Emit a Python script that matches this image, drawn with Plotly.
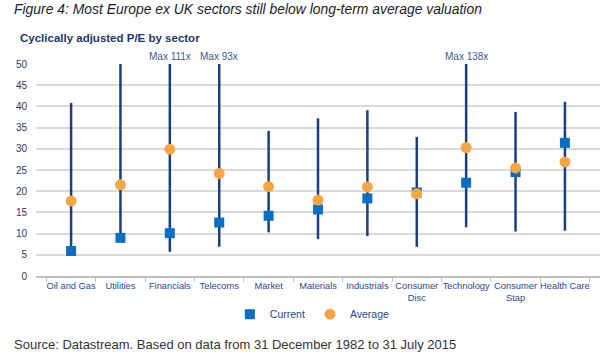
import plotly.graph_objects as go

sectors = ["Oil and Gas", "Utilities", "Financials", "Telecoms", "Market", "Materials",
           "Industrials", "Consumer<br>Disc", "Technology", "Consumer<br>Stap", "Health Care"]
current = [5.9, 9.0, 10.1, 12.6, 14.2, 15.7, 18.3, 19.7, 22.0, 24.5, 31.4]
average = [17.7, 21.5, 29.9, 24.2, 21.1, 17.9, 21.0, 19.4, 30.3, 25.5, 26.9]
range_min = [5.5, 8.5, 5.7, 6.9, 10.3, 8.7, 9.4, 6.9, 11.5, 10.5, 10.7]
range_max = [40.8, 50.0, 111.0, 93.0, 34.2, 37.2, 39.1, 32.8, 138.0, 38.7, 41.1]
y_ticks = list(range(0, 51, 5))
y_top = 50

FONT = "Liberation Sans, Arial, sans-serif"

# range lines built from data (clipped at the axis top)
lx, ly = [], []
for s, lo, hi in zip(sectors, range_min, range_max):
    lx += [s, s, None]
    ly += [lo, min(hi, y_top), None]

fig = go.Figure()
fig.add_trace(go.Scatter(x=lx, y=ly, mode="lines", line=dict(color="#1B3F7E", width=2.5),
                         showlegend=False, hoverinfo="skip"))
fig.add_trace(go.Scatter(x=sectors, y=current, mode="markers", name="Current",
                         marker=dict(symbol="square", size=10, color="#0A6FC2")))
fig.add_trace(go.Scatter(x=sectors, y=average, mode="markers", name="Average",
                         marker=dict(symbol="circle", size=11, color="#F8A546")))

for s, hi in zip(sectors, range_max):
    if hi > y_top + 5:
        fig.add_annotation(x=s, y=y_top, yref="y", text=f"Max {hi:.0f}x", showarrow=False,
                           yshift=8, font=dict(family=FONT, size=10, color="#3B5A8E"))

fig.add_annotation(text="Figure 4: Most Europe ex UK sectors still below long-term average valuation",
                   xref="paper", yref="paper", x=-0.043, y=1.0, yshift=55.5, xanchor="left", yanchor="middle",
                   showarrow=False, font=dict(family=FONT, size=13.9, color="#1C1C2A", style="italic"))
fig.add_annotation(text="<b>Cyclically adjusted P/E by sector</b>",
                   xref="paper", yref="paper", x=-0.032, y=1.0, yshift=26, xanchor="left", yanchor="middle",
                   showarrow=False, font=dict(family=FONT, size=11.5, color="#1F3864"))
fig.add_annotation(text="Source: Datastream. Based on data from 31 December 1982 to 31 July 2015",
                   xref="paper", yref="paper", x=-0.043, y=0.0, yshift=-68, xanchor="left", yanchor="middle",
                   showarrow=False, font=dict(family=FONT, size=13, color="#333333"))

fig.update_layout(
    width=610, height=356,
    margin=dict(l=36, r=10, t=64, b=80, autoexpand=False),
    paper_bgcolor="white", plot_bgcolor="white",
    font=dict(family=FONT, size=10, color="#284A86"),
    showlegend=True,
    legend=dict(orientation="h", x=0.49, xanchor="center", y=-0.18, yanchor="middle",
                font=dict(family=FONT, size=10.5, color="#284A86"), itemwidth=30, tracegroupgap=0),
    xaxis=dict(type="category", showgrid=False, showline=True, linecolor="#BFBFBF", linewidth=1.5,
               ticks="outside", tickson="boundaries", ticklen=4, tickcolor="#BFBFBF",
               tickangle=0, automargin=False,
               tickfont=dict(family=FONT, size=9.3, color="#284A86"), fixedrange=True),
    yaxis=dict(range=[0, y_top], tickvals=y_ticks, showgrid=True, gridcolor="#D9D9D9", gridwidth=1.5,
               zeroline=False, showline=False, ticks="", ticklabelstandoff=8, automargin=False,
               tickfont=dict(size=10, color="#1F3864"), fixedrange=True),
)

fig.write_html("out.html", config={"displayModeBar": False},
               post_script="document.body.style.margin='0px';")
